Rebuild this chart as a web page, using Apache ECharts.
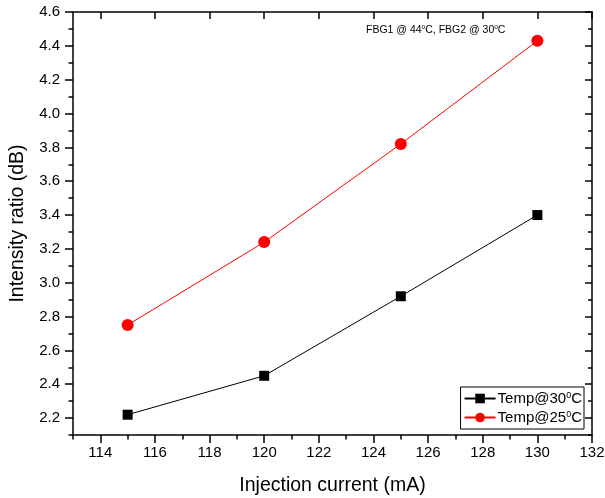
<!DOCTYPE html>
<html><head><meta charset="utf-8">
<script src="https://cdn.jsdelivr.net/npm/echarts@6/dist/echarts.min.js"></script>
<style>html,body{margin:0;padding:0;background:#fff}#c{width:605px;height:498px}</style>
</head><body><div id="c"></div>
<script>
const currents = [115, 120, 125, 130];
const temp30 = [2.22, 2.45, 2.92, 3.40];
const temp25 = [2.75, 3.24, 3.82, 4.43];
const xMajorTicks = [114, 116, 118, 120, 122, 124, 126, 128, 130, 132];
const xMinorTicks = [113, 115, 117, 119, 121, 123, 125, 127, 129, 131];
const yMajorTicks = [2.2, 2.4, 2.6, 2.8, 3.0, 3.2, 3.4, 3.6, 3.8, 4.0, 4.2, 4.4, 4.6];
const yMinorTicks = [2.1, 2.3, 2.5, 2.7, 2.9, 3.1, 3.3, 3.5, 3.7, 3.9, 4.1, 4.3, 4.5];

const FONT = '"Liberation Sans", Arial, sans-serif';
const chart = echarts.init(document.getElementById('c'), null, {renderer: 'canvas'});
const lineStyle = {color: '#000', width: 1.5};
const xBase = {type: 'value', min: 113, max: 132, splitLine: {show: false}, gridIndex: 0};
const yBase = {type: 'value', min: 2.1, max: 4.6, splitLine: {show: false}, gridIndex: 0};

chart.setOption({
  animation: false,
  backgroundColor: '#fff',
  grid: {left: 73, right: 13, top: 12, bottom: 63, containLabel: false, outerBoundsMode: 'none'},
  xAxis: [
    Object.assign({}, xBase, {
      position: 'bottom',
      axisLine: {show: true, lineStyle: lineStyle},
      axisTick: {show: true, customValues: xMajorTicks, length: 8, lineStyle: {color: '#000', width: 1.5}},
      axisLabel: {show: true, customValues: xMajorTicks, fontSize: 15, color: '#000', fontFamily: FONT, margin: 10},
      name: 'Injection current (mA)', nameLocation: 'middle', nameGap: 41,
      nameTextStyle: {fontSize: 19.5, color: '#000', fontFamily: FONT}
    }),
    Object.assign({}, xBase, {
      position: 'bottom',
      axisLine: {show: false},
      axisTick: {show: true, customValues: xMinorTicks, length: 4.5, lineStyle: {color: '#000', width: 1.5}},
      axisLabel: {show: false}
    }),
    Object.assign({}, xBase, {
      position: 'top',
      axisLine: {show: true, lineStyle: lineStyle},
      axisTick: {show: true, inside: true, customValues: xMajorTicks, length: 7, lineStyle: {color: '#000', width: 1.5}},
      axisLabel: {show: false}
    })
  ],
  yAxis: [
    Object.assign({}, yBase, {
      position: 'left',
      axisLine: {show: true, lineStyle: lineStyle},
      axisTick: {show: true, customValues: yMajorTicks, length: 8, lineStyle: {color: '#000', width: 1.5}},
      axisLabel: {show: true, customValues: yMajorTicks, fontSize: 15, color: '#000', fontFamily: FONT, margin: 13,
        formatter: v => v.toFixed(1)},
      name: 'Intensity ratio (dB)', nameLocation: 'middle', nameGap: 45,
      nameTextStyle: {fontSize: 19.5, color: '#000', fontFamily: FONT}
    }),
    Object.assign({}, yBase, {
      position: 'left',
      axisLine: {show: false},
      axisTick: {show: true, customValues: yMinorTicks, length: 4.5, lineStyle: {color: '#000', width: 1.5}},
      axisLabel: {show: false}
    }),
    Object.assign({}, yBase, {
      position: 'right',
      axisLine: {show: true, lineStyle: lineStyle},
      axisTick: {show: true, inside: true, customValues: yMajorTicks, length: 7, lineStyle: {color: '#000', width: 1.5}},
      axisLabel: {show: false}
    }),
    Object.assign({}, yBase, {
      position: 'right',
      axisLine: {show: false},
      axisTick: {show: true, inside: true, customValues: yMinorTicks, length: 4, lineStyle: {color: '#000', width: 1.5}},
      axisLabel: {show: false}
    })
  ],
  legend: {
    right: 21, top: 387,
    orient: 'vertical',
    backgroundColor: '#fff',
    borderColor: '#000', borderWidth: 1,
    padding: [4, 2, 4, 3],
    itemGap: 4,
    itemWidth: 31, itemHeight: 12,
    textStyle: {fontSize: 15, color: '#000', fontFamily: FONT, padding: [0, 0, 0, -3],
      rich: {s: {fontSize: 9, verticalAlign: 'top', color: '#000', fontFamily: FONT, padding: [0, 0, 6, 0]}}},
    formatter: n => n === 'Temp@30C' ? 'Temp@30{s|0}C' : 'Temp@25{s|0}C',
    data: ['Temp@30C', 'Temp@25C']
  },
  graphic: [{
    type: 'text', left: 366, top: 24,
    style: {
      text: 'FBG1 @ 44{s|o}C, FBG2 @ 30{s|o}C',
      font: '10.5px ' + FONT, fill: '#000',
      rich: {s: {fontSize: 6.5, verticalAlign: 'top', fill: '#000', padding: [0, 0, 5, 0]}}
    }
  }],
  series: [
    {
      name: 'Temp@30C', type: 'line', xAxisIndex: 0, yAxisIndex: 0,
      data: currents.map((c, i) => [c, temp30[i]]),
      symbol: 'rect', symbolSize: 10,
      itemStyle: {color: '#000'}, lineStyle: {color: '#000', width: 1}
    },
    {
      name: 'Temp@25C', type: 'line', xAxisIndex: 0, yAxisIndex: 0,
      data: currents.map((c, i) => [c, temp25[i]]),
      symbol: 'circle', symbolSize: 12,
      itemStyle: {color: '#ff0000'}, lineStyle: {color: '#ff0000', width: 1}
    }
  ]
});
</script></body></html>
